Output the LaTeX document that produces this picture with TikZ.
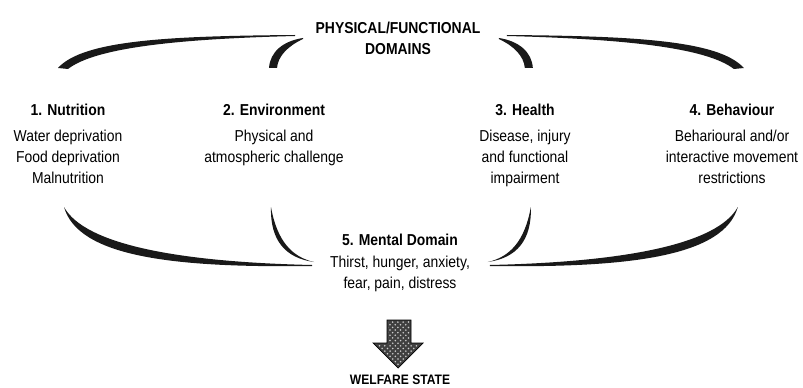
\documentclass[tikz,border=0pt]{standalone}
\usepackage{fontspec}
\setmainfont{Liberation Sans}[FakeStretch=0.88]
\usepackage{tikz}
\usetikzlibrary{patterns}
\def\swooshes{%
		% top, long and short
		\fill[black!90] (58,68) .. controls (83,40) and (170,36) .. (295,35)
			-- (295,36) .. controls (175,39) and (95,48) .. (68,69) -- cycle;
		\fill[black!90] (269,68) .. controls (270,52) and (283,41) .. (303,38)
			-- (303,39) .. controls (288,46) and (278,56) .. (277,68) -- cycle;
		% bottom, long and short
		\fill[black!90] (64,207) .. controls (85,245) and (180,262) .. (312,265)
			-- (312,266) .. controls (170,268) and (78,256) .. (64,207) -- cycle;
		\fill[black!90] (271,207) .. controls (270,240) and (285,258) .. (314,262)
			.. controls (292,257) and (277,241) .. (271,207) -- cycle;
}
\tikzset{
	domtext/.style={font=\fontsize{9}{12}\selectfont, align=center, inner sep=0pt},
	domhead/.style={domtext, font=\fontsize{9}{12}\selectfont\bfseries}
}

\begin{document}
\begin{tikzpicture}[x=0.02cm, y=-0.02cm]
		%%%%% START %%%%%
		\useasboundingbox (0,0) rectangle (803,388);
		
		\node[domhead, anchor=north] (title) at (398, 22) {PHYSICAL/FUNCTIONAL\\DOMAINS};
		
		\node[domhead] (nut) at (68, 110) {1. Nutrition};
		\node[domtext, anchor=north] (nutbody) at (68, 130) {Water deprivation\\Food deprivation\\Malnutrition};
		
		\node[domhead] (env) at (274, 110) {2. Environment};
		\node[domtext, anchor=north] (envbody) at (274, 130) {Physical and\\atmospheric challenge};
		
		\node[domhead] (health) at (525, 110) {3. Health};
		\node[domtext, anchor=north] (healthbody) at (525, 130) {Disease, injury\\and functional\\impairment};
		
		\node[domhead] (behav) at (732, 110) {4. Behaviour};
		\node[domtext, anchor=north] (behavbody) at (732, 130) {Beharioural and/or\\interactive movement\\restrictions};
		
		\node[domhead] (mental) at (400, 240) {5. Mental Domain};
		\node[domtext, anchor=north] (mentalbody) at (400, 256) {Thirst, hunger, anxiety,\\fear, pain, distress};
		
		\node[domhead, font=\fontsize{7.8}{10}\selectfont\bfseries] (welfare) at (400, 380) {WELFARE STATE};
		
		\swooshes
		\begin{scope}[xshift=16.04cm, xscale=-1]
			\swooshes
		\end{scope}
		
		\draw[fill=black!75, draw=black] (387,320) -- (411,320) -- (411,343) -- (423,343)
			-- (398,368) -- (373,343) -- (387,343) -- cycle;
		\fill[pattern=crosshatch dots, pattern color=white!80!black] (388,321) -- (410,321) -- (410,344)
			-- (420,344) -- (398,366) -- (376,344) -- (388,344) -- cycle;
		
		%%%%% END %%%%%
	\end{tikzpicture}
\end{document}
